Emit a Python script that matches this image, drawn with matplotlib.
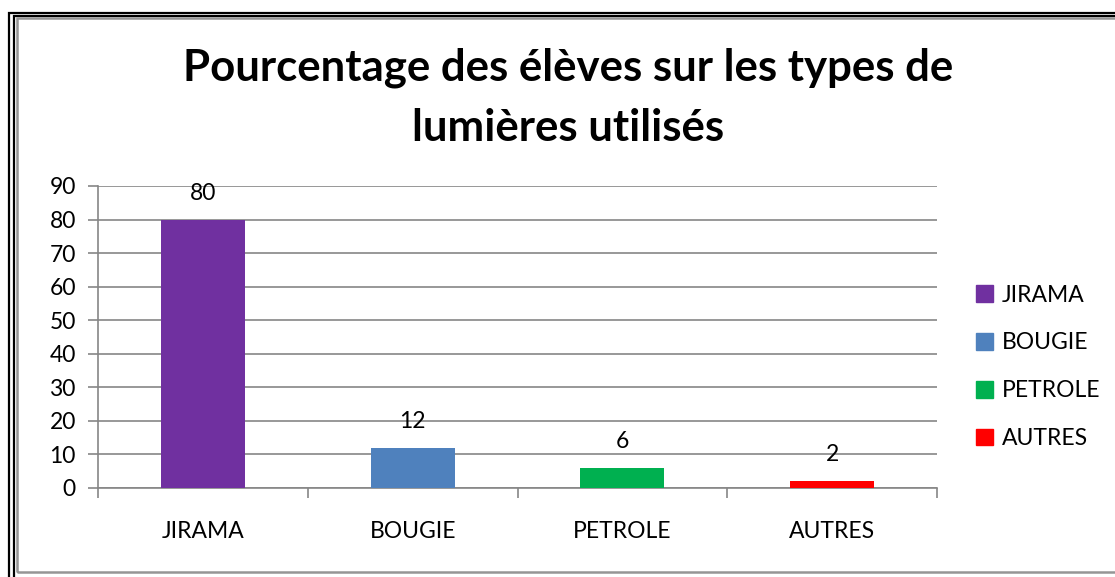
import matplotlib.pyplot as plt
from matplotlib.patches import Rectangle, Patch

categories = ["JIRAMA", "BOUGIE", "PETROLE", "AUTRES"]
values = [80, 12, 6, 2]
colors = ["#7030A0", "#4F81BD", "#00B050", "#FF0000"]
yticks = [0, 10, 20, 30, 40, 50, 60, 70, 80, 90]

plt.rcParams['font.family'] = ['Lato', 'DejaVu Sans']

W, H = 1115, 577
fig = plt.figure(figsize=(W / 100, H / 100), dpi=100)

# frame lines around the chart
def frame(x0, y0, x1, y1, color, lw):
    fig.patches.append(Rectangle((x0 / W, 1 - y1 / H), (x1 - x0) / W, (y1 - y0) / H,
                                 transform=fig.transFigure, fill=False,
                                 edgecolor=color, linewidth=lw))

frame(9, 13, 1125, 585, "black", 1.6)
frame(14, 16, 1125, 585, "black", 1.6)
frame(17, 18, 1125, 572, "#959595", 1.8)

ax = fig.add_axes([98 / W, 1 - 488 / H, (937 - 98) / W, (488 - 186) / H])
xs = range(len(categories))
ax.bar(xs, values, width=0.4, color=colors, zorder=3)
for x, v in zip(xs, values):
    ax.annotate(str(v), (x, v), xytext=(0, 19), textcoords="offset points",
                ha="center", va="center", fontsize=16.5)

ax.set_xlim(-0.5, len(categories) - 0.5)
ax.set_ylim(0, 90)
ax.set_yticks(yticks)
ax.set_yticklabels([str(t) for t in yticks], fontsize=16.5)
ax.set_xticks([x - 0.5 for x in range(len(categories) + 1)])
ax.set_xticklabels([])
ax.set_xticks(list(xs), minor=True)
ax.set_xticklabels(categories, minor=True, fontsize=16.5)
ax.tick_params(axis="x", which="minor", length=0, pad=24)
ax.tick_params(axis="x", which="major", length=7, color="#868686", width=1.2)
ax.tick_params(axis="y", length=7, color="#868686", width=1.2, pad=9)
ax.grid(axis="y", color="#868686", linewidth=1.2, zorder=0)
for s in ["top", "right"]:
    ax.spines[s].set_visible(False)
for s in ["left", "bottom"]:
    ax.spines[s].set_color("#868686")
    ax.spines[s].set_linewidth(1.2)

fig.text(568 / W, 1 - 68 / H, "Pourcentage des élèves sur les types de",
         ha="center", va="center", fontsize=31.5, fontweight="bold")
fig.text(568 / W, 1 - 128 / H, "lumières utilisés",
         ha="center", va="center", fontsize=31.5, fontweight="bold")

handles = [Patch(color=c, label=l) for c, l in zip(colors, categories)]
fig.legend(handles=handles, loc="upper left", bbox_to_anchor=(955 / W, 1 - 264 / H),
           frameon=False, fontsize=16.5, handlelength=0.75, handleheight=0.75,
           handletextpad=0.4, labelspacing=1.17)

fig.savefig("out.png", dpi=100)
